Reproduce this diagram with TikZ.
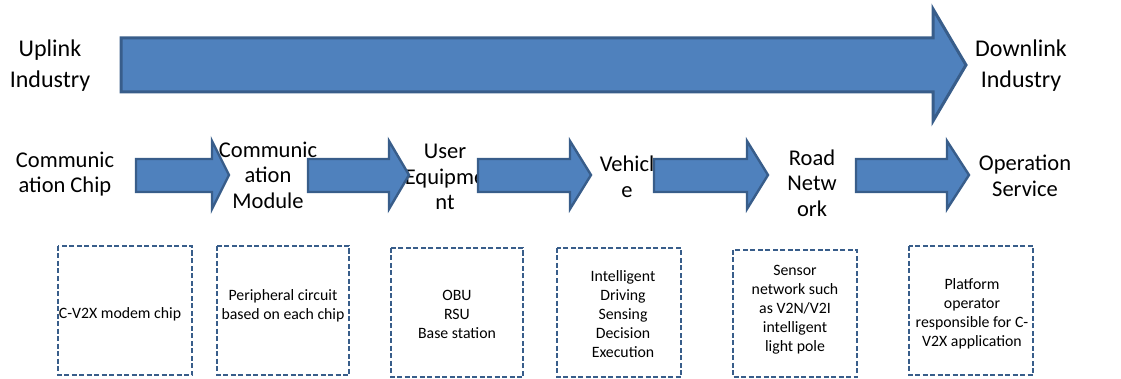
\documentclass[tikz,border=0pt]{standalone}
\usepackage{fontspec}
\setmainfont{Carlito}
\definecolor{arrfill}{HTML}{4F81BD}
\definecolor{arrline}{HTML}{385D8A}
\begin{document}
\begin{tikzpicture}[x=1pt,y=-1pt,
  bigtxt/.style={align=center,inner sep=0pt,font=\fontsize{24}{31}\selectfont},
  midtxt/.style={align=center,inner sep=0pt,font=\fontsize{22.5}{25.5}\selectfont},
  smalltxt/.style={align=center,inner sep=0pt,font=\fontsize{15.8}{19}\selectfont},
  blkarrow/.style={fill=arrfill,draw=arrline,line width=2.4pt,line join=miter},
  dashbox/.style={draw=arrline,line width=2.5pt,dash pattern=on 5pt off 2.5pt}]
\useasboundingbox (0,0) rectangle (1121,379);
% top labels
\node[bigtxt] (up) at (50,66) {Uplink\\Industry};
\node[bigtxt] (down) at (1021,66) {Downlink\\Industry};
% big arrow
\coordinate (bigtail) at (121,65);
\coordinate (bigtip) at (966,65);
\draw[blkarrow,line width=3pt] (121,38) -- (933,38) -- (933,9) -- (966,65) -- (933,121) -- (933,92) -- (121,92) -- cycle;
% row 2 labels
\node[midtxt] (chip) at (65,174) {Communic\\ation Chip};
\node[midtxt] (module) at (268,175) {Communic\\ation\\Module};
\node[midtxt] (ue) at (445,177) {User\\Equipme\\nt};
\node[midtxt] (veh) at (627,177) {Vehicl\\e};
\node[midtxt] (road) at (812,183) {Road\\Netw\\ork};
\node[midtxt] (op) at (1025,176) {Operation\\Service};
% row 2 arrows
\newcommand\blkarr[3]{%
  \draw[blkarrow] (#1,159) -- (#2,159) -- (#2,141) -- (#3,175) -- (#2,209) -- (#2,192) -- (#1,192) -- cycle;}
\blkarr{136}{212}{229}
\blkarr{308}{389}{409}
\blkarr{478}{570}{591}
\blkarr{654}{747}{768}
\blkarr{856}{947}{969}
% dashed boxes
\draw[dashbox] (58,246) rectangle (192,375);
\draw[dashbox] (217,246) rectangle (349,375);
\draw[dashbox] (391,248) rectangle (523,377);
\draw[dashbox] (557,248) rectangle (681,377);
\draw[dashbox] (733,250) rectangle (857,377);
\draw[dashbox] (909,246) rectangle (1033,375);
% box texts
\node[smalltxt] (t1) at (120,314) {C-V2X modem chip};
\node[smalltxt] (t2) at (283,306) {Peripheral circuit\\based on each chip};
\node[smalltxt] (t3) at (457,314) {OBU\\RSU\\Base station};
\node[smalltxt] (t4) at (623,314) {Intelligent\\Driving\\Sensing\\Decision\\Execution};
\node[smalltxt] (t5) at (795,310) {Sensor\\network such\\as V2N/V2I\\intelligent\\light pole};
\node[smalltxt] (t6) at (972,314) {Platform\\operator\\responsible for C-\\V2X application};
\end{tikzpicture}
\end{document}
